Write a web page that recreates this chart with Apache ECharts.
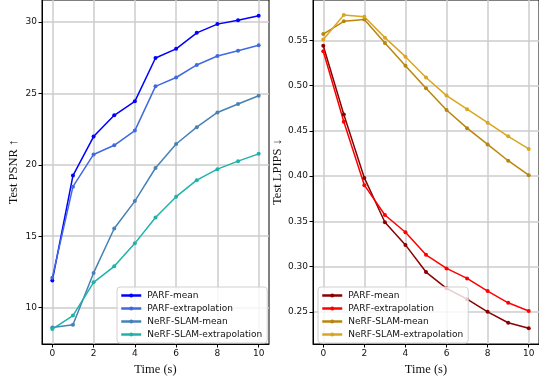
<!DOCTYPE html>
<html>
<head>
<meta charset="utf-8">
<script src="https://cdn.jsdelivr.net/npm/echarts@6/dist/echarts.min.js"></script>
<style>
  html, body { margin: 0; padding: 0; background: #fff; }
  #chart { width: 539px; height: 381px; }
</style>
</head>
<body>
<div id="chart"></div>
<script>
const times = [0, 1, 2, 3, 4, 5, 6, 7, 8, 9, 10];
const xTicks = [0, 2, 4, 6, 8, 10];

// Test PSNR (left panel)
const psnrNames = ["PARF-mean", "PARF-extrapolation", "NeRF-SLAM-mean", "NeRF-SLAM-extrapolation"];
const psnrParfMean = [11.9, 19.25, 21.98, 23.47, 24.45, 27.49, 28.13, 29.25, 29.86, 30.13, 30.45];
const psnrParfExtra = [12.1, 18.47, 20.73, 21.37, 22.4, 25.5, 26.12, 27.0, 27.63, 28.0, 28.38];
const psnrSlamMean = [8.6, 8.8, 12.43, 15.54, 17.46, 19.78, 21.46, 22.64, 23.67, 24.26, 24.84];
const psnrSlamExtra = [8.5, 9.44, 11.77, 12.89, 14.5, 16.31, 17.77, 18.93, 19.7, 20.26, 20.77];
const psnrTicks = [10, 15, 20, 25, 30];
const psnrColors = ["#0000ff", "#4169e1", "#4682b4", "#20b2aa"];

// Test LPIPS (right panel)
const lpipsNames = ["PARF-mean", "PARF-extrapolation", "NeRF-SLAM-mean", "NeRF-SLAM-extrapolation"];
const lpipsParfMean = [0.544, 0.468, 0.398, 0.349, 0.324, 0.294, 0.276, 0.264, 0.250, 0.238, 0.232];
const lpipsParfExtra = [0.538, 0.460, 0.390, 0.357, 0.338, 0.313, 0.298, 0.287, 0.273, 0.260, 0.251];
const lpipsSlamMean = [0.557, 0.571, 0.573, 0.547, 0.522, 0.497, 0.473, 0.453, 0.435, 0.417, 0.401];
const lpipsSlamExtra = [0.551, 0.578, 0.576, 0.553, 0.532, 0.509, 0.489, 0.474, 0.459, 0.444, 0.430];
const lpipsTicks = [0.25, 0.30, 0.35, 0.40, 0.45, 0.50, 0.55];
const lpipsColors = ["#8b0000", "#ff0000", "#b8860b", "#daa520"];

const tickFont = { fontFamily: "DejaVu Sans", fontSize: 9, color: "#111" };
const titleFont = { fontFamily: "Liberation Serif", fontSize: 12.5, color: "#111" };
const gridLine = { color: "#cccccc", width: 1.5 };

const xAxisFor = (gridIndex) => ({
  type: "value",
  gridIndex,
  min: -0.5,
  max: 10.5,
  name: "Time (s)",
  nameLocation: "middle",
  nameGap: 19,
  nameTextStyle: titleFont,
  axisLine: { show: true, onZero: false, lineStyle: { color: "#000", width: 1 } },
  axisTick: { show: true, length: 3.5, customValues: xTicks, lineStyle: { color: "#000" } },
  axisLabel: { customValues: xTicks, margin: 5, ...tickFont },
  splitLine: { show: true, customValues: xTicks, lineStyle: gridLine }
});

const yAxisFor = (gridIndex, min, max, ticks, name, fmt, gap) => ({
  type: "value",
  gridIndex,
  min,
  max,
  name,
  nameLocation: "middle",
  nameGap: gap,
  nameTextStyle: titleFont,
  axisLine: { show: true, onZero: false, lineStyle: { color: "#000", width: 1 } },
  axisTick: { show: true, length: 3.5, customValues: ticks, lineStyle: { color: "#000" } },
  axisLabel: { customValues: ticks, margin: 5, formatter: fmt, ...tickFont },
  splitLine: { show: true, customValues: ticks, lineStyle: gridLine }
});

const toSeries = (idx, name, values, color) => ({
  type: "line",
  name,
  xAxisIndex: idx,
  yAxisIndex: idx,
  data: times.map((t, i) => [t, values[i]]),
  symbol: "circle",
  symbolSize: 4,
  lineStyle: { color, width: 1.5 },
  itemStyle: { color },
  emphasis: { disabled: true }
});

const legendFor = (left, names) => ({
  left,
  top: 287,
  orient: "vertical",
  data: names,
  itemWidth: 20,
  itemHeight: 5,
  itemGap: 2,
  padding: [3, 5, 3, 3],
  borderColor: "#d0d0d0",
  borderWidth: 1,
  borderRadius: 3,
  backgroundColor: "rgba(255,255,255,0.8)",
  lineStyle: { width: 2.5 },
  textStyle: { fontFamily: "DejaVu Sans", fontSize: 9, color: "#111", padding: [0, 0, 0, 1], lineHeight: 11 }
});

const chart = echarts.init(document.getElementById("chart"));
chart.setOption({
  animation: false,
  grid: [
    { left: 42, top: 0, width: 227, height: 347, show: true, borderColor: "#000", borderWidth: 1 },
    { left: 313, top: 0, width: 227, height: 347, show: true, borderColor: "#000", borderWidth: 1 }
  ],
  legend: [
    legendFor(117, psnrNames),
    legendFor(318, lpipsNames.map(n => n + "\u200b"))
  ],
  xAxis: [xAxisFor(0), xAxisFor(1)],
  yAxis: [
    yAxisFor(0, 7.45, 31.55, psnrTicks, "Test PSNR \u2191", v => String(v), 22),
    yAxisFor(1, 0.2145, 0.5946, lpipsTicks, "Test LPIPS \u2193", v => v.toFixed(2), 25)
  ],
  series: [
    toSeries(0, psnrNames[0], psnrParfMean, psnrColors[0]),
    toSeries(0, psnrNames[1], psnrParfExtra, psnrColors[1]),
    toSeries(0, psnrNames[2], psnrSlamMean, psnrColors[2]),
    toSeries(0, psnrNames[3], psnrSlamExtra, psnrColors[3]),
    // zero-width space keeps the right-panel legend entries distinct
    toSeries(1, lpipsNames[0] + "\u200b", lpipsParfMean, lpipsColors[0]),
    toSeries(1, lpipsNames[1] + "\u200b", lpipsParfExtra, lpipsColors[1]),
    toSeries(1, lpipsNames[2] + "\u200b", lpipsSlamMean, lpipsColors[2]),
    toSeries(1, lpipsNames[3] + "\u200b", lpipsSlamExtra, lpipsColors[3])
  ]
});
</script>
</body>
</html>
